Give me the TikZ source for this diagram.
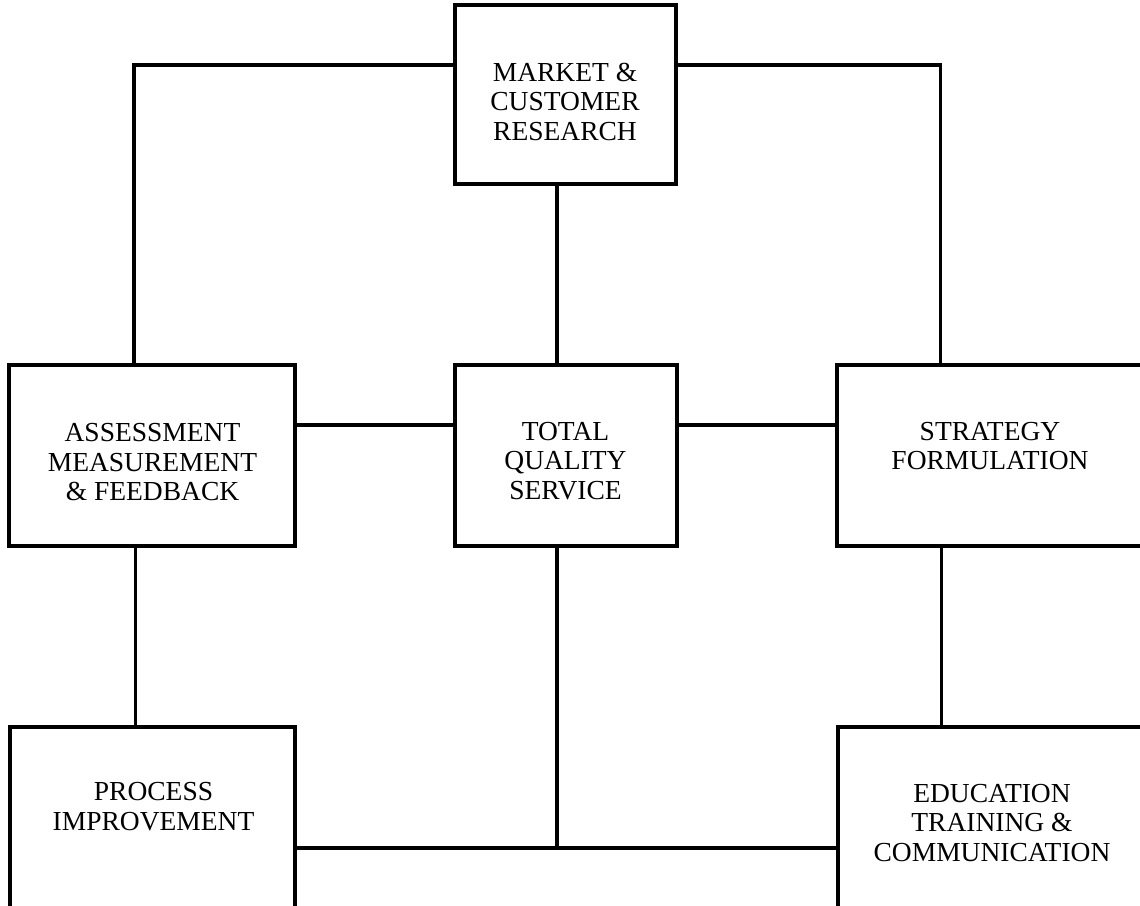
\documentclass[tikz,border=0pt]{standalone}
\usepackage{fontspec}
\setmainfont{Liberation Serif}
\begin{document}
\begin{tikzpicture}[x=1pt,y=-1pt,
  box/.style={draw=black, line width=3.4pt, rectangle, inner sep=0pt},
  lbl/.style={align=center, inner sep=0pt, font=\fontsize{27.5}{29.5}\selectfont},
  conn/.style={line width=3.1pt, line cap=rect}]
\useasboundingbox (0,0) rectangle (1140,905);
\clip (0,0) rectangle (1140,905);
% boxes
\node[box, minimum width=221pt, minimum height=179pt] (market) at (565.5,94.5) {};
\node[box, minimum width=286pt, minimum height=181pt] (assess) at (152,455.5) {};
\node[box, minimum width=222pt, minimum height=181pt] (total) at (566,455.5) {};
\node[box, minimum width=313pt, minimum height=181pt] (strat) at (993.5,455.5) {};
\node[box, minimum width=285pt, minimum height=185pt] (process) at (152.5,819.5) {};
\node[box, minimum width=312pt, minimum height=185pt] (edu) at (994,819.5) {};
% labels
\node[lbl] (marketT) at (565,101.7) {MARKET \&\\CUSTOMER\\RESEARCH};
\node[lbl] (assessT) at (152.5,462.5) {ASSESSMENT\\MEASUREMENT\\\& FEEDBACK};
\node[lbl] (totalT) at (565.5,461) {TOTAL\\QUALITY\\SERVICE};
\node[lbl] (stratT) at (990,445.8) {STRATEGY\\FORMULATION};
\node[lbl] (processT) at (153.5,806.7) {PROCESS\\IMPROVEMENT};
\node[lbl] (eduT) at (992,822.8) {EDUCATION\\TRAINING \&\\COMMUNICATION};
% helper coordinates
\coordinate (tl) at (134,65);
\coordinate (tr) at (940.5,65);
\coordinate (cx) at (557,425);
\coordinate (by) at (557,848);
\coordinate (lx) at (135.5,600);
\coordinate (rx) at (941.5,600);
% connectors
\draw[conn] (market.west |- tl) -- (tl) -- (tl |- assess.north);
\draw[conn] (market.east |- tr) -- (tr) -- (tr |- strat.north);
\draw[conn] (cx |- market.south) -- (cx |- total.north);
\draw[conn] (assess.east |- cx) -- (total.west |- cx);
\draw[conn] (total.east |- cx) -- (strat.west |- cx);
\draw[conn] (lx |- assess.south) -- (lx |- process.north);
\draw[conn] (rx |- strat.south) -- (rx |- edu.north);
\draw[conn] (cx |- total.south) -- (by);
\draw[conn] (process.east |- by) -- (edu.west |- by);
\end{tikzpicture}
\end{document}
